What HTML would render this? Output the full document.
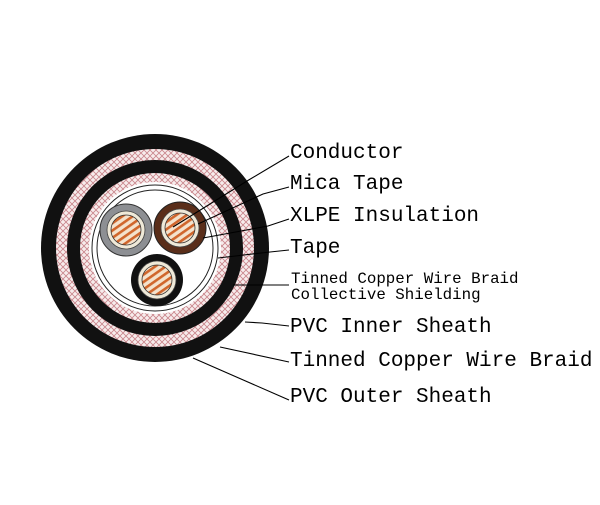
<!DOCTYPE html>
<html><head><style>html,body{margin:0;padding:0;background:#fff}</style></head>
<body>
<svg width="600" height="500" xmlns="http://www.w3.org/2000/svg">
<defs>
<pattern id="br" width="6" height="6" patternUnits="userSpaceOnUse">
<rect width="6" height="6" fill="#f7ecec"/>
<path d="M0 0L6 6M6 0L0 6" stroke="#c9848a" stroke-width="0.8"/>
</pattern>
<pattern id="cu" width="6" height="6" patternUnits="userSpaceOnUse" patternTransform="rotate(-35)">
<rect width="6" height="6" fill="#f4e2cc"/>
<rect width="6" height="2.6" fill="#d0662c"/>
</pattern>
</defs>
<g>
<circle cx="155" cy="248" r="114" fill="#111"/>
<circle cx="155" cy="248" r="99" fill="url(#br)"/>
<circle cx="155" cy="248" r="88" fill="#111"/>
<circle cx="155" cy="248" r="75" fill="url(#br)"/>
<circle cx="155" cy="248" r="66" fill="#fff"/>
<circle cx="155" cy="248" r="63" fill="none" stroke="#222" stroke-width="1"/>
<circle cx="155" cy="248" r="58" fill="none" stroke="#222" stroke-width="1"/>
<!-- cores -->
<circle cx="126" cy="230" r="26" fill="#8d8f93" stroke="#333"/>
<circle cx="126" cy="230" r="19" fill="#efe9d8" stroke="#444" stroke-width=".8"/>
<circle cx="126" cy="230" r="15" fill="url(#cu)" stroke="#333" stroke-width=".8"/>
<circle cx="180" cy="228" r="26" fill="#5a2e1a" stroke="#222"/>
<circle cx="180" cy="228" r="19" fill="#efe9d8" stroke="#444" stroke-width=".8"/>
<circle cx="180" cy="228" r="15" fill="url(#cu)" stroke="#333" stroke-width=".8"/>
<circle cx="157" cy="280" r="26" fill="#111"/>
<circle cx="157" cy="280" r="19" fill="#efe9d8" stroke="#444" stroke-width=".8"/>
<circle cx="157" cy="280" r="15" fill="url(#cu)" stroke="#333" stroke-width=".8"/>
</g>
<g stroke="#000" stroke-width="1.1" fill="none">
<path d="M289 156L247 181L173 227"/>
<path d="M289 187L263 194L198 224"/>
<path d="M289 219L268 226L203 238"/>
<path d="M289 250L270 252L218 258"/>
<path d="M289 285L266 285L233 285"/>
<path d="M289 326L262 323L245 322"/>
<path d="M289 362L220 347"/>
<path d="M289 400L193 358"/>
</g>
<g font-family="'Liberation Mono',monospace" fill="#000">
<text x="290" y="158" font-size="21">Conductor</text>
<text x="290" y="189" font-size="21">Mica Tape</text>
<text x="290" y="221" font-size="21">XLPE Insulation</text>
<text x="290" y="253" font-size="21">Tape</text>
<text x="291" y="283" font-size="15.8">Tinned Copper Wire Braid</text>
<text x="291" y="299" font-size="15.8">Collective Shielding</text>
<text x="290" y="332" font-size="21">PVC Inner Sheath</text>
<text x="290" y="366" font-size="21">Tinned Copper Wire Braid</text>
<text x="290" y="402" font-size="21">PVC Outer Sheath</text>
</g>
</svg>
</body></html>
